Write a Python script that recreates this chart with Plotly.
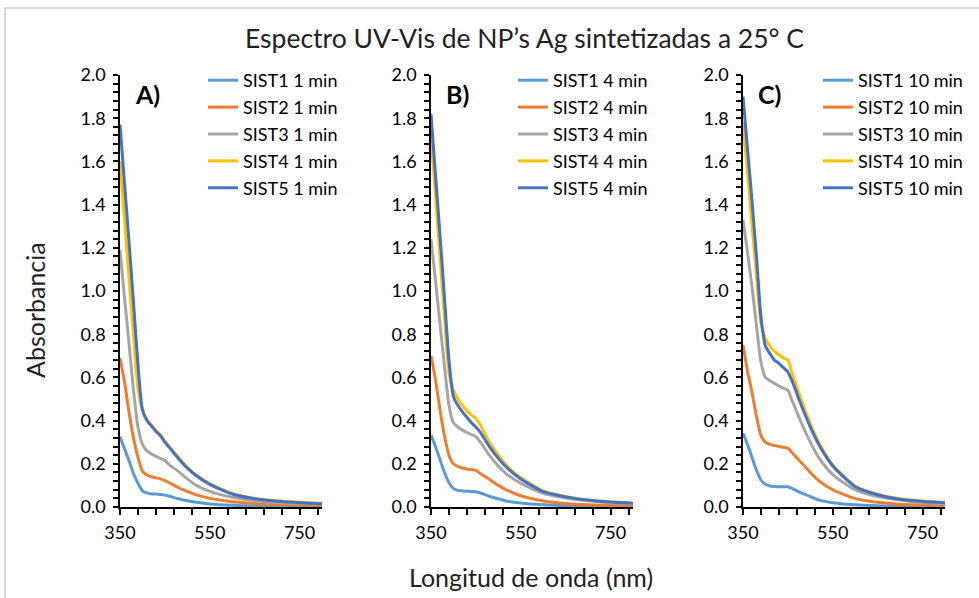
import plotly.graph_objects as go

W, H = 979, 598

# wavelength grid (nm)
wavelength = [350, 360, 370, 380, 390, 400, 410, 420, 430, 440, 450,
              460, 480, 500, 520, 550, 600, 650, 700, 750, 800]

# A) 1 min
a_sist1 = [0.326, 0.27, 0.215, 0.155, 0.11, 0.075, 0.065, 0.06, 0.06, 0.058, 0.055,
           0.05, 0.038, 0.029, 0.022, 0.014, 0.008, 0.005, 0.003, 0.002, 0.002]
a_sist2 = [0.69, 0.58, 0.44, 0.32, 0.23, 0.165, 0.148, 0.14, 0.135, 0.13, 0.122,
           0.112, 0.09, 0.072, 0.056, 0.04, 0.024, 0.016, 0.011, 0.009, 0.008]
a_sist3 = [1.19, 0.97, 0.76, 0.54, 0.37, 0.29, 0.26, 0.245, 0.235, 0.225, 0.215,
           0.195, 0.165, 0.13, 0.10, 0.072, 0.045, 0.03, 0.021, 0.016, 0.013]
a_sist4 = [1.60, 1.33, 1.06, 0.80, 0.55, 0.45, 0.405, 0.38, 0.355, 0.335, 0.305,
           0.28, 0.23, 0.185, 0.148, 0.108, 0.063, 0.04, 0.029, 0.022, 0.017]
a_sist5 = [1.77, 1.50, 1.23, 0.95, 0.66, 0.45, 0.40, 0.375, 0.35, 0.33, 0.30,
           0.275, 0.225, 0.18, 0.145, 0.105, 0.06, 0.038, 0.027, 0.02, 0.015]

# B) 4 min
b_sist1 = [0.333, 0.28, 0.22, 0.16, 0.113, 0.085, 0.077, 0.074, 0.073, 0.072, 0.071,
           0.065, 0.05, 0.038, 0.027, 0.018, 0.01, 0.006, 0.004, 0.003, 0.002]
b_sist2 = [0.70, 0.59, 0.45, 0.33, 0.24, 0.20, 0.188, 0.18, 0.176, 0.173, 0.17,
           0.155, 0.128, 0.10, 0.077, 0.052, 0.028, 0.016, 0.01, 0.008, 0.006]
b_sist3 = [1.24, 1.05, 0.85, 0.65, 0.47, 0.39, 0.37, 0.356, 0.345, 0.335, 0.326,
           0.30, 0.24, 0.19, 0.15, 0.11, 0.063, 0.042, 0.029, 0.02, 0.014]
b_sist4 = [1.72, 1.44, 1.16, 0.88, 0.62, 0.54, 0.50, 0.47, 0.445, 0.425, 0.41,
           0.38, 0.30, 0.24, 0.19, 0.135, 0.075, 0.049, 0.033, 0.024, 0.018]
b_sist5 = [1.82, 1.54, 1.26, 0.97, 0.68, 0.51, 0.47, 0.44, 0.415, 0.39, 0.37,
           0.345, 0.28, 0.225, 0.18, 0.13, 0.071, 0.047, 0.032, 0.023, 0.017]

# C) 10 min
c_sist1 = [0.341, 0.29, 0.23, 0.17, 0.125, 0.105, 0.097, 0.095, 0.094, 0.094, 0.094,
           0.085, 0.065, 0.048, 0.032, 0.02, 0.01, 0.006, 0.004, 0.003, 0.002]
c_sist2 = [0.75, 0.63, 0.53, 0.42, 0.33, 0.30, 0.29, 0.285, 0.28, 0.276, 0.272,
           0.25, 0.205, 0.16, 0.12, 0.08, 0.039, 0.022, 0.013, 0.009, 0.006]
c_sist3 = [1.33, 1.18, 1.02, 0.84, 0.67, 0.60, 0.585, 0.573, 0.56, 0.55, 0.54,
           0.49, 0.39, 0.30, 0.225, 0.15, 0.079, 0.048, 0.032, 0.021, 0.014]
c_sist4 = [1.78, 1.55, 1.31, 1.07, 0.85, 0.78, 0.745, 0.72, 0.705, 0.69, 0.68,
           0.615, 0.495, 0.385, 0.295, 0.195, 0.097, 0.059, 0.038, 0.028, 0.021]
c_sist5 = [1.90, 1.66, 1.42, 1.16, 0.88, 0.745, 0.71, 0.68, 0.665, 0.645, 0.625,
           0.58, 0.47, 0.37, 0.285, 0.19, 0.094, 0.057, 0.036, 0.026, 0.02]

series_names = ["SIST1", "SIST2", "SIST3", "SIST4", "SIST5"]
times = ["1 min", "4 min", "10 min"]
panel_labels = ["A)", "B)", "C)"]
x_tickvals = [350, 550, 750]

colors = ["#5B9BD5", "#ED7D31", "#A5A5A5", "#FFC000", "#4472C4"]
panels = [
    [a_sist1, a_sist2, a_sist3, a_sist4, a_sist5],
    [b_sist1, b_sist2, b_sist3, b_sist4, b_sist5],
    [c_sist1, c_sist2, c_sist3, c_sist4, c_sist5],
]

# plot area geometry in pixels
plot_left = [120, 431, 743]
plot_width = 202
plot_top, plot_bottom = 75, 507
legend_left = [203, 513, 818]
font = "Lato"


def fx(p):
    return p / W


def fy(p):
    return 1 - p / H


fig = go.Figure()

for i in range(3):
    xa = "x" if i == 0 else f"x{i + 1}"
    ya = "y" if i == 0 else f"y{i + 1}"
    leg = "legend" if i == 0 else f"legend{i + 1}"
    for k in range(5):
        fig.add_trace(go.Scatter(
            x=wavelength,
            y=panels[i][k],
            name=f"{series_names[k]} {times[i]}",
            mode="lines",
            line=dict(color=colors[k], width=3, shape="spline", smoothing=0.6),
            legend=leg,
            legendgroup=f"{i}_{k}",
            xaxis=xa,
            yaxis=ya))

layout = dict(
    width=W, height=H,
    margin=dict(l=0, r=0, t=0, b=0, autoexpand=False),
    paper_bgcolor="white",
    plot_bgcolor="rgba(0,0,0,0)",
    font=dict(family=font, size=18, color="black"),
    showlegend=True,
)

for i in range(3):
    n = i + 1
    sx = "" if n == 1 else str(n)
    dom_x = [fx(plot_left[i]), fx(plot_left[i] + plot_width)]
    dom_y = [fy(plot_bottom), fy(plot_top)]
    common_x = dict(range=[350, 800], tickvals=x_tickvals, showgrid=False, zeroline=False,
                    showline=True, linecolor="black", linewidth=1.5, automargin=False,
                    tickcolor="black", tickwidth=1.5, ticklen=6,
                    minor=dict(dtick=40, tick0=350, ticklen=6, tickcolor="black", tickwidth=1.5),
                    fixedrange=True)
    common_y = dict(range=[0, 2.0], dtick=0.2, tick0=0, tickformat=".1f", showgrid=False,
                    zeroline=False, showline=True, linecolor="black", linewidth=1.5,
                    automargin=False,
                    tickcolor="black", tickwidth=1.5, ticklen=5,
                    minor=dict(dtick=0.04, tick0=0, ticklen=5, tickcolor="black", tickwidth=1.5),
                    fixedrange=True)
    layout[f"xaxis{sx}"] = dict(common_x, domain=dom_x, anchor=f"y{sx}", ticks="outside",
                                ticklabelstandoff=3,
                                minor=dict(common_x["minor"], ticks="outside"))
    layout[f"yaxis{sx}"] = dict(common_y, domain=dom_y, anchor=f"x{sx}", ticks="outside",
                                ticklabelstandoff=4,
                                minor=dict(common_y["minor"], ticks="outside"))
    # overlay axes give the crossing tick marks
    ox, oy = n + 3, n + 3
    layout[f"xaxis{ox}"] = dict(common_x, overlaying=f"x{sx}", anchor=f"y{sx}", side="bottom",
                                ticks="inside", showticklabels=False,
                                minor=dict(common_x["minor"], ticks="inside"))
    layout[f"yaxis{oy}"] = dict(common_y, overlaying=f"y{sx}", anchor=f"x{sx}", side="left",
                                ticks="inside", showticklabels=False,
                                minor=dict(common_y["minor"], ticks="inside"))
    layout[f"legend{sx}"] = dict(
        x=fx(legend_left[i]), y=fy(62), xanchor="left", yanchor="top",
        bgcolor="rgba(0,0,0,0)", font=dict(family=font, size=18),
        traceorder="grouped", tracegroupgap=0.5, itemwidth=30)

fig.update_layout(**layout)

annotations = []
for i in range(3):
    annotations.append(dict(
        text=f"<b>{panel_labels[i]}</b>", x=fx(plot_left[i] + 13), y=fy(94),
        xref="paper", yref="paper", xanchor="left", yanchor="middle",
        showarrow=False, font=dict(family=font, size=25, color="black")))
annotations.append(dict(
    text="Espectro UV-Vis de NP’s Ag sintetizadas a 25° C", x=fx(524), y=fy(38),
    xref="paper", yref="paper", xanchor="center", yanchor="middle",
    showarrow=False, font=dict(family=font, size=26.5, color="#222")))
annotations.append(dict(
    text="Longitud de onda (nm)", x=fx(531), y=fy(577),
    xref="paper", yref="paper", xanchor="center", yanchor="middle",
    showarrow=False, font=dict(family=font, size=25, color="#222")))
annotations.append(dict(
    text="Absorbancia", x=fx(35), y=fy(310), textangle=-90,
    xref="paper", yref="paper", xanchor="center", yanchor="middle",
    showarrow=False, font=dict(family=font, size=25, color="#222")))
fig.update_layout(annotations=annotations)

# light outer chart border
fig.add_shape(type="rect", xref="paper", yref="paper",
              x0=fx(5), y0=-0.05, x1=1.05, y1=fy(8),
              line=dict(color="#d9d9d9", width=2))

# the page body default margin would shift the figure by 8px
fig.write_html("out.html", config={"displayModeBar": False},
               post_script="document.body.style.margin = '0px';")
